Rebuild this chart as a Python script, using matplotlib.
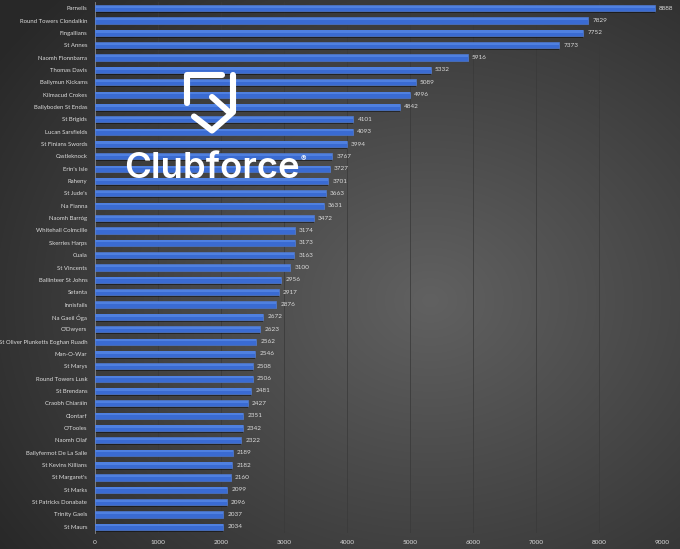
import numpy as np
import matplotlib
matplotlib.use("Agg")
import matplotlib.pyplot as plt

clubs = ["Parnells", "Round Towers Clondalkin", "Fingallians", "St Annes", "Naomh Fionnbarra",
         "Thomas Davis", "Ballymun Kickams", "Kilmacud Crokes", "Ballyboden St Endas", "St Brigids",
         "Lucan Sarsfields", "St Finians Swords", "Castleknock", "Erin's Isle", "Raheny",
         "St Jude's", "Na Fianna", "Naomh Barróg", "Whitehall Colmcille", "Skerries Harps",
         "Cuala", "St Vincents", "Ballinteer St Johns", "Setanta", "Innisfails",
         "Na Gaeil Óga", "O'Dwyers", "St Oliver Plunketts Eoghan Ruadh", "Man-O-War", "St Marys",
         "Round Towers Lusk", "St Brendans", "Craobh Chiaráin", "Clontarf", "O'Tooles",
         "Naomh Olaf", "Ballyfermot De La Salle", "St Kevins Killians", "St Margaret's", "St Marks",
         "St Patricks Donabate", "Trinity Gaels", "St Maurs"]
members = [8888, 7829, 7752, 7373, 5916,
           5332, 5089, 4996, 4842, 4101,
           4093, 3994, 3767, 3727, 3701,
           3663, 3631, 3472, 3174, 3173,
           3163, 3100, 2956, 2917, 2876,
           2672, 2623, 2562, 2546, 2508,
           2506, 2481, 2427, 2351, 2342,
           2322, 2189, 2182, 2160, 2099,
           2096, 2037, 2034]
x_ticks = [0, 1000, 2000, 3000, 4000, 5000, 6000, 7000, 8000, 9000]

W, H = 680, 549
fig = plt.figure(figsize=(W / 100, H / 100), dpi=100)

# background radial gradient
bg = fig.add_axes([0, 0, 1, 1], zorder=-10)
yy, xx = np.mgrid[0:H, 0:W]
r = np.sqrt(((xx - 430) / 520.0) ** 2 + ((yy - 300) / 430.0) ** 2)
val = np.clip(0.38 - 0.22 * r, 0.16, 0.40)
bg.imshow(np.dstack([val, val, val]), extent=[0, W, H, 0], aspect='auto', interpolation='bilinear')
bg.set_xlim(0, W)
bg.set_ylim(H, 0)
bg.axis('off')

left, right = 95, 662
top, bottom = 2, 533
ax = fig.add_axes([left / W, 1 - bottom / H, (right - left) / W, (bottom - top) / H])
ax.set_facecolor('none')

ypos = np.arange(len(clubs))
txtcol = '#dcdcdc'
fam = ['Lato', 'DejaVu Sans']

# shadow
ax.barh(ypos + 0.13, members, height=0.5, color='black', alpha=0.45, zorder=2, linewidth=0)
ax.barh(ypos, members, height=0.5, color='#3a6bd2', edgecolor='#5a88e4', linewidth=0.4, zorder=3)
ax.barh(ypos - 0.12, members, height=0.18, color='#4f80e0', linewidth=0, zorder=4)

for y, v in zip(ypos, members):
    ax.text(v + 65, y, str(v), va='center', ha='left', fontsize=4.6, color=txtcol,
            family=fam, clip_on=False)

ax.set_xlim(0, 9000)
ax.set_ylim(len(clubs) - 0.5, -0.5)
ax.set_xticks(x_ticks)
ax.set_xticklabels([str(t) for t in x_ticks], fontsize=4.6, color=txtcol, family=fam)
ax.set_yticks(ypos)
ax.set_yticklabels(clubs, fontsize=4.3, color=txtcol, family=fam)
ax.tick_params(axis='y', length=0, pad=5.5)
ax.tick_params(axis='x', length=0, pad=5)
ax.xaxis.grid(True, color='#3a3a3a', linewidth=0.7, alpha=0.8, zorder=0)
ax.set_axisbelow(True)
for s in ['top', 'right', 'bottom']:
    ax.spines[s].set_visible(False)
ax.spines['left'].set_color('#8a8a8a')
ax.spines['left'].set_linewidth(0.6)

# logo overlay
ov = fig.add_axes([0, 0, 1, 1], zorder=10)
ov.set_xlim(0, W)
ov.set_ylim(H, 0)
ov.axis('off')
lw = 4.4
kw = dict(color='white', linewidth=lw, solid_capstyle='round', solid_joinstyle='round')
ov.plot([222, 187, 187], [75, 75, 103], **kw)
ov.plot([233, 233, 212, 194], [75, 112, 130.5, 116.5], **kw)
ov.plot([212, 229.5], [97, 112.5], **kw)
ov.text(124, 178, 'Clubforce', color='white', fontsize=26.3, fontweight='semibold',
        family=['Inter', 'DejaVu Sans'], ha='left', va='baseline')
ov.text(300.5, 161, '®', color='white', fontsize=6, family=['Inter', 'DejaVu Sans'],
        ha='left', va='baseline')

fig.savefig('out.png', dpi=100)
